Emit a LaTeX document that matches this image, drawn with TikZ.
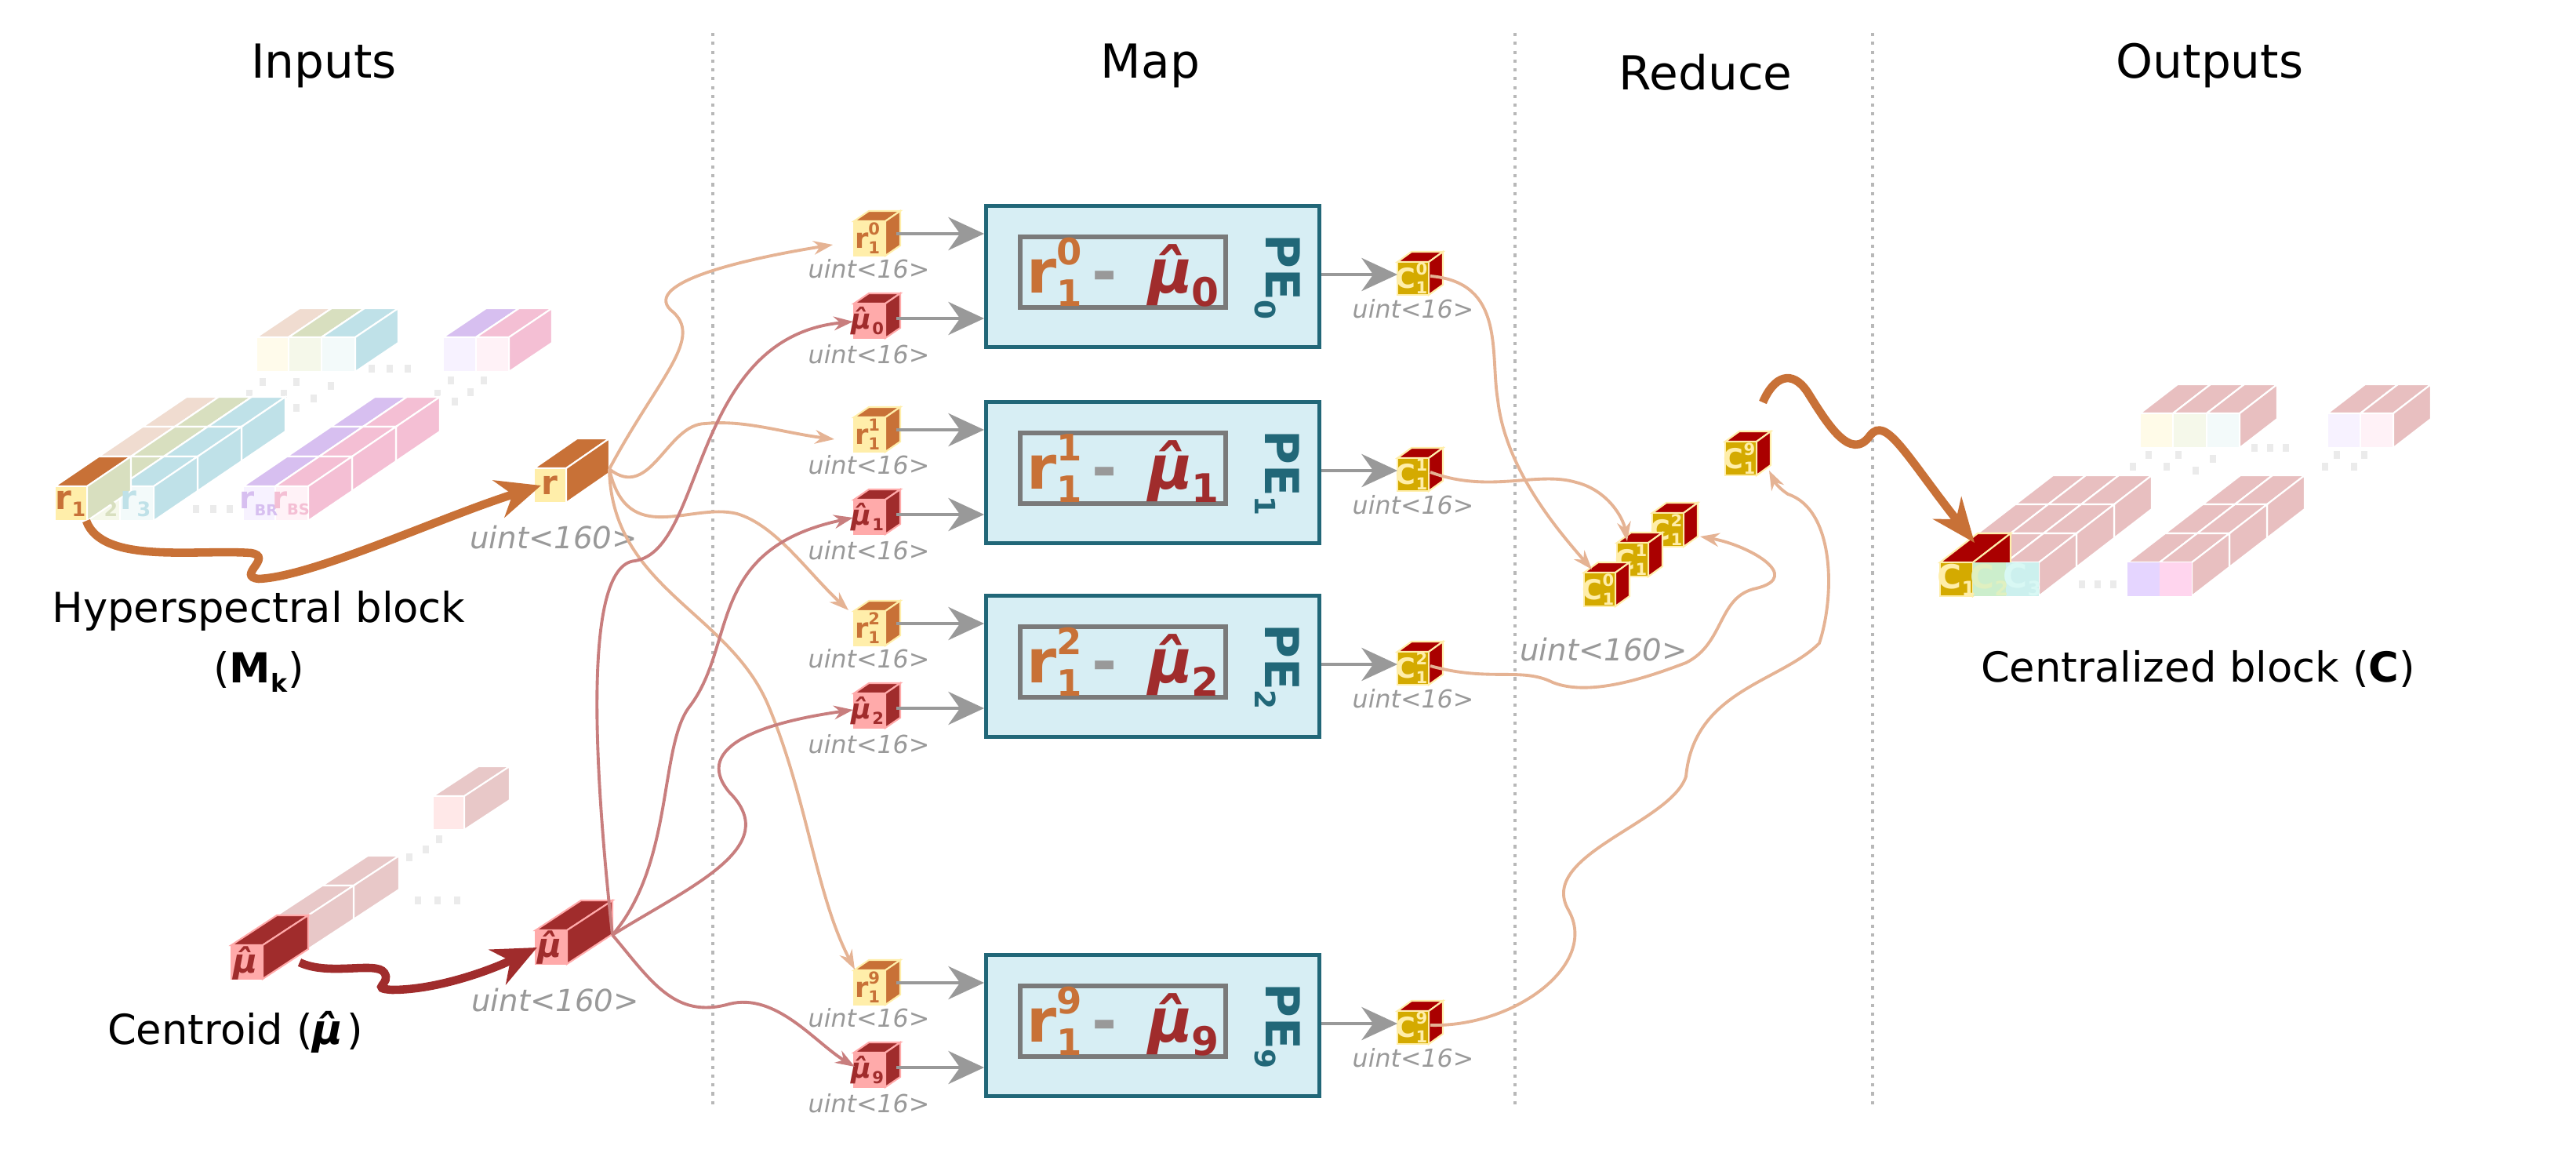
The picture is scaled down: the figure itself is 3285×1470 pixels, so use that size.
\documentclass[tikz,border=0pt]{standalone}
\usepackage{fontspec}
\usepackage{graphicx}
\setmainfont{DejaVu Sans}
\usetikzlibrary{arrows.meta}
\definecolor{orng}{HTML}{C87137}
\definecolor{yel}{HTML}{FFEEAA}
\definecolor{rd}{HTML}{A02C2C}
\definecolor{pnk}{HTML}{FFAAAA}
\definecolor{gold}{HTML}{D4AA00}
\definecolor{drd}{HTML}{AA0000}
\definecolor{pef}{HTML}{D7EEF4}
\definecolor{peb}{HTML}{216778}
\definecolor{igr}{HTML}{7A7A7A}
\definecolor{lgr}{HTML}{999999}
\definecolor{cor}{HTML}{E5B394}
\definecolor{cmu}{HTML}{C87E7E}
\definecolor{hpe}{HTML}{F0DCD0}
\definecolor{hgr}{HTML}{D8DFBF}
\definecolor{hbl}{HTML}{BFE1E8}
\definecolor{hpu}{HTML}{D7BFF0}
\definecolor{hpk}{HTML}{F4BFD4}
\definecolor{cpk}{HTML}{E8BFC0}
\definecolor{FFFBEB}{HTML}{FFFBEB}
\definecolor{F5F8EA}{HTML}{F5F8EA}
\definecolor{F3FAFA}{HTML}{F3FAFA}
\definecolor{F7F2FF}{HTML}{F7F2FF}
\definecolor{FFF2F7}{HTML}{FFF2F7}
\definecolor{FFF3F0}{HTML}{FFF3F0}
\definecolor{FFE8E8}{HTML}{FFE8E8}
\definecolor{E8C8C8}{HTML}{E8C8C8}
\definecolor{FFFBE8}{HTML}{FFFBE8}
\definecolor{CCEECC}{HTML}{CCEECC}
\definecolor{CCF0EE}{HTML}{CCF0EE}
\definecolor{E5D5FF}{HTML}{E5D5FF}
\definecolor{FFD5EE}{HTML}{FFD5EE}
\definecolor{E0F0C0}{HTML}{E0F0C0}
\definecolor{D8F8F4}{HTML}{D8F8F4}
\def\edgecol{white}
% x y w h dx dy front top side
\newcommand\cubo[9]{%
 \filldraw[draw=\edgecol,line width=0.6pt,fill=#8] ({#1},{#2}) -- ++({#5},{-(#6)}) -- ++({#3},0) -- ++({-(#5)},{#6}) -- cycle;
 \filldraw[draw=\edgecol,line width=0.6pt,fill=#9] ({(#1)+(#3)},{#2}) -- ++({#5},{-(#6)}) -- ++(0,{#4}) -- ++({-(#5)},{#6}) -- cycle;
 \filldraw[draw=\edgecol,line width=0.6pt,fill=#7] ({#1},{#2}) rectangle ++({#3},{#4});}
\newcommand\supsb[3]{#1\makebox[0pt][l]{\raisebox{0.85ex}{\scalebox{0.6}{#2}}}\raisebox{-0.4ex}{\scalebox{0.6}{#3}}}
\newcommand\mh{μ̂}
\tikzset{
 title/.style={font=\fontsize{17}{20}\selectfont},
 lbl/.style={font=\fontsize{15}{22}\selectfont, align=center},
 u16/.style={text=lgr,font=\fontsize{9}{10}\selectfont\itshape},
 u160/.style={text=lgr,font=\fontsize{11}{12}\selectfont\itshape},
 garrow/.style={draw=lgr,line width=1pt,-{Stealth[length=13pt,width=12pt]}},
 rcurve/.style={draw=cor,line width=1.1pt,-{Stealth[length=7pt,width=5pt]}},
 mcurve/.style={draw=cmu,line width=1.1pt,-{Stealth[length=7pt,width=5pt]}},
 dotl/.style={draw=lgr!70,line width=1.2pt,dotted},
 pebox/.style={draw=peb,fill=pef,line width=1.3pt,minimum width=4.25cm,minimum height=1.8cm,anchor=north west},
 inner/.style={draw=igr,line width=1.6pt,minimum width=2.62cm,minimum height=0.9cm,inner sep=0pt,font=\fontsize{22}{24}\selectfont\bfseries},
 pel/.style={text=peb,rotate=-90,font=\fontsize{17}{20}\selectfont\bfseries},
 cl/.style={font=\fontsize{12}{14}\selectfont\bfseries,inner sep=0pt},
 sl/.style={font=\fontsize{10}{11}\selectfont\bfseries,inner sep=0pt},
 dsq/.style={fill=black!8},
}
\newcommand\dq[2]{\fill[dsq] ({#1-4},{#2-5}) rectangle ++(8,10);}
\begin{document}
\begin{tikzpicture}[x=0.01cm,y=-0.01cm]
\useasboundingbox (0,0) rectangle (3285,1470);
% dividers
\foreach \xx/\nm in {909/da,1932/db,2388/dc}{
 \coordinate (\nm1) at (\xx,42); \coordinate (\nm2) at (\xx,1414);
 \draw[dotl] (\nm1) -- (\nm2);}
\node[title] (tin) at (413,84) {Inputs};
\node[title] (tmap) at (1467,84) {Map};
\node[title] (tred) at (2175,92) {Reduce};
\node[title] (tout) at (2818,84) {Outputs};

% ---------- Hyperspectral block ----------
\cubo{327}{430}{41}{44}{55}{37}{FFFBEB}{hpe}{hpe}
\cubo{368}{430}{42}{44}{55}{37}{F5F8EA}{hgr}{hgr}
\cubo{410}{430}{43}{44}{55}{37}{F3FAFA}{hbl}{hbl}
\cubo{565}{430}{42}{44}{55}{37}{F7F2FF}{hpu}{hpu}
\cubo{607}{430}{42}{44}{55}{37}{FFF2F7}{hpk}{hpk}
\foreach \a/\b in {474/470,497/470,520/470,335/487,378/487,422/492,318/502,362/502,400/508,378/520,575/485,617/485,558/502,600/500,580/512}{\dq{\a}{\b}}
\foreach \d in {2,1,0}{
 \cubo{70+56*\d}{620-38*\d}{41}{44}{56}{38}{FFF3F0}{hpe}{hpe}
 \cubo{111+56*\d}{620-38*\d}{42}{44}{56}{38}{F5F8EA}{hgr}{hgr}
 \cubo{153+56*\d}{620-38*\d}{43}{44}{56}{38}{F3FAFA}{hbl}{hbl}
 \cubo{310+56*\d}{620-38*\d}{41}{44}{56}{38}{F7F2FF}{hpu}{hpu}
 \cubo{351+56*\d}{620-38*\d}{42}{44}{56}{38}{FFF2F7}{hpk}{hpk}}
\cubo{70}{620}{41}{44}{56}{38}{yel}{orng}{hgr}
\foreach \a in {250,272,293}{\dq{\a}{649}}
\node[cl,text=orng] (r1) at (90,642) {\supsb{r}{}{1}};
\node[cl,text=hgr] (r2) at (131,642) {\supsb{r}{}{2}};
\node[cl,text=hbl] (r3) at (173,642) {\supsb{r}{}{3}};
\node[cl,text=hpu,font=\fontsize{11}{12}\selectfont\bfseries] (rbr) at (330,642) {r\raisebox{-0.4ex}{\scalebox{0.5}{BR}}};
\node[cl,text=hpk,font=\fontsize{11}{12}\selectfont\bfseries] (rbs) at (371,642) {r\raisebox{-0.4ex}{\scalebox{0.5}{BS}}};
\node[lbl] (hyp) at (330,818) {Hyperspectral block\\(\textbf{M}\raisebox{-0.4ex}{\scalebox{0.6}{\textbf{k}}})};
% r cube
\cubo{681}{597}{41}{44}{55}{38}{yel}{orng}{orng}
\node[cl,text=orng] (rr) at (701,619) {r};
\node[u160] (u1) at (706,685) {uint<160>};
\coordinate (rs) at (777,598);
\coordinate (r1b) at (110,664);
\draw[orng,line width=3pt,-{Stealth[length=16pt,width=14pt]}] (r1b) .. controls (130,720) and (250,700) .. (320,705) .. controls (350,710) and (300,735) .. (330,738) .. controls (400,735) and (560,660) .. (rr.west);

% ---------- Centroid ----------
\def\edgecol{white}
\cubo{552}{1015}{40}{43}{58}{38}{FFE8E8}{E8C8C8}{E8C8C8}
\dq{522}{1093}\dq{543}{1083}\dq{560}{1070}
\foreach \a in {533,558,583}{\dq{\a}{1148}}
\cubo{411}{1129}{40}{43}{58}{38}{E8C8C8}{E8C8C8}{E8C8C8}
\cubo{353}{1167}{40}{43}{58}{38}{E8C8C8}{E8C8C8}{E8C8C8}
\def\edgecol{pnk}
\cubo{295}{1205}{40}{43}{58}{38}{pnk}{rd}{rd}
\node[cl,text=rd] (mu1) at (315,1228) {\textit{\mh}};
\cubo{683}{1186}{40}{43}{58}{38}{pnk}{rd}{rd}
\node[cl,text=rd] (muh) at (703,1208) {\textit{\mh}};
\node[u160] (u2) at (708,1275) {uint<160>};
\node[lbl] (cen) at (300,1316) {Centroid (\textbf{\textit{\mh}})};
\coordinate (ms) at (781,1192);
\coordinate (mub) at (382,1227);
\draw[rd,line width=3pt,-{Stealth[length=16pt,width=14pt]}] (mub) .. controls (420,1245) and (480,1225) .. (490,1240) .. controls (500,1255) and (470,1260) .. (500,1262) .. controls (560,1262) and (630,1235) .. (muh.west);

% ---------- Map ----------
\foreach \k/\t in {0/260,1/510,2/757,9/1215}{
 \pgfmathsetmacro\ry{\t+22}\pgfmathsetmacro\my{\t+127}
 \pgfmathsetmacro\rc{\t+44}\pgfmathsetmacro\mc{\t+149}
 \pgfmathsetmacro\ra{\t+38}\pgfmathsetmacro\ma{\t+146}
 \pgfmathsetmacro\cy{\t+74}\pgfmathsetmacro\cc{\t+95}
 \def\edgecol{yel}
 \cubo{1089}{\ry}{40}{44}{19}{13}{yel}{orng}{orng}
 \def\edgecol{pnk}
 \cubo{1089}{\my}{40}{44}{19}{13}{pnk}{rd}{rd}
 \node[sl,text=orng] (rk\k) at (1106,\rc) {\supsb{r}{\k}{1}};
 \node[sl,text=rd] (mk\k) at (1106,\mc) {\textit{\mh}\kern-0.05em\raisebox{-0.4ex}{\scalebox{0.6}{\k}}};
 \node[u16] (ur\k) at (1108,\t+83) {uint<16>};
 \node[u16] (um\k) at (1108,\t+192) {uint<16>};
 \node[pebox] (pe\k) at (1255,\t) {};
 \node[inner] (f\k) at (1432,\t+87) {\textcolor{orng}{\supsb{r}{\k}{1}}\,\textcolor{lgr}{-}\, \textcolor{rd}{\textit{\mh}\kern-0.12em\raisebox{-0.4ex}{\scalebox{0.65}{\k}}}};
 \node[pel] (pl\k) at (1629,\t+93) {PE\raisebox{-0.4ex}{\scalebox{0.6}{\k}}};
 \coordinate (ro\k) at (1143,\ra); \coordinate (mo\k) at (1143,\ma);
 \draw[garrow] (ro\k) -- (pe\k.west |- ro\k);
 \draw[garrow] (mo\k) -- (pe\k.west |- mo\k);
 \def\edgecol{yel}
 \cubo{1782}{\cy}{40}{42}{18}{13}{gold}{drd}{drd}
 \node[sl,text=yel] (ck\k) at (1800,\cc) {\supsb{C}{\k}{1}};
 \node[u16] (uc\k) at (1802,\t+134) {uint<16>};
 \coordinate (ci\k) at (1782,\t+90);
 \draw[garrow] (pe\k.east |- ci\k) -- (ci\k);
 \coordinate (cs\k) at (1824,\t+92);
}
% input curves
\draw[rcurve] (rs) .. controls (840,480) and (900,430) .. (855,395) .. controls (820,360) and (950,330) .. (1062,312);
\draw[rcurve] (rs) .. controls (830,640) and (850,540) .. (900,540) .. controls (950,535) and (1000,552) .. (1064,560);
\draw[rcurve] (rs) .. controls (800,700) and (880,640) .. (940,655) .. controls (990,670) and (1030,730) .. (1082,778);
\draw[rcurve] (rs) .. controls (780,750) and (930,780) .. (980,900) .. controls (1030,1020) and (1040,1140) .. (1090,1236);
\draw[mcurve] (ms) .. controls (760,1000) and (740,720) .. (810,715) .. controls (900,700) and (880,430) .. (1088,410);
\draw[mcurve] (ms) .. controls (860,1100) and (840,950) .. (880,900) .. controls (940,820) and (900,700) .. (1088,660);
\draw[mcurve] (ms) .. controls (880,1130) and (1000,1080) .. (930,1010) .. controls (880,950) and (980,920) .. (1088,905);
\draw[mcurve] (ms) .. controls (830,1250) and (860,1300) .. (930,1280) .. controls (990,1265) and (1040,1330) .. (1090,1360);

% ---------- Reduce ----------
\def\edgecol{yel}
\cubo{2200}{563}{40}{43}{18}{13}{gold}{drd}{drd}
\node[sl,text=yel] (c9) at (2218,585) {\supsb{C}{9}{1}};
\cubo{2107}{654}{40}{43}{18}{13}{gold}{drd}{drd}
\node[sl,text=yel] (c2) at (2125,676) {\supsb{C}{2}{1}};
\cubo{2062}{692}{40}{43}{18}{13}{gold}{drd}{drd}
\node[sl,text=yel] (c1) at (2080,714) {\supsb{C}{1}{1}};
\cubo{2020}{730}{40}{43}{18}{13}{gold}{drd}{drd}
\node[sl,text=yel] (c0) at (2038,752) {\supsb{C}{0}{1}};
\node[u160] (u3) at (2045,828) {uint<160>};
\draw[rcurve] (cs0) .. controls (1920,360) and (1900,450) .. (1910,510) .. controls (1920,600) and (1990,680) .. (2030,726);
\draw[rcurve] (cs1) .. controls (1900,630) and (1960,600) .. (2010,615) .. controls (2050,625) and (2070,660) .. (2075,690);
\draw[rcurve] (cs2) .. controls (1900,870) and (1940,850) .. (1980,870) .. controls (2030,890) and (2110,860) .. (2150,845) .. controls (2200,820) and (2190,760) .. (2240,750) .. controls (2300,735) and (2230,695) .. (2168,684);
\draw[rcurve] (cs9) .. controls (1930,1310) and (2040,1230) .. (2000,1160) .. controls (1960,1090) and (2130,1050) .. (2150,990) .. controls (2160,880) and (2270,870) .. (2320,820) .. controls (2340,760) and (2340,650) .. (2280,630) .. controls (2265,620) and (2262,612) .. (2256,600);

% ---------- Outputs ----------
\def\edgecol{white}
\cubo{2729}{527}{42}{44}{48}{37}{FFFBE8}{cpk}{cpk}
\cubo{2771}{527}{43}{44}{48}{37}{F5F8EA}{cpk}{cpk}
\cubo{2814}{527}{42}{44}{48}{37}{F3FAFA}{cpk}{cpk}
\cubo{2968}{527}{42}{44}{48}{37}{F7F2FF}{cpk}{cpk}
\cubo{3010}{527}{42}{44}{48}{37}{FFF2F7}{cpk}{cpk}
\foreach \a/\b in {2875/571,2895/571,2915/571,2740/580,2778/580,2822/585,2720/595,2763/595,2800/600,2980/580,3015/580,2965/595,3002/595}{\dq{\a}{\b}}
\foreach \d in {2,1,0}{
 \cubo{2474+48*\d}{717-37*\d}{42}{43}{48}{37}{cpk}{cpk}{cpk}
 \cubo{2516+48*\d}{717-37*\d}{42}{43}{48}{37}{cpk}{cpk}{cpk}
 \cubo{2558+48*\d}{717-37*\d}{42}{43}{48}{37}{cpk}{cpk}{cpk}
 \cubo{2713+48*\d}{717-37*\d}{41}{43}{48}{37}{cpk}{cpk}{cpk}
 \cubo{2754+48*\d}{717-37*\d}{41}{43}{48}{37}{cpk}{cpk}{cpk}}
\def\edgecol{yel}
\cubo{2474}{717}{42}{43}{48}{37}{gold}{drd}{drd}
\def\edgecol{white}
\fill[CCEECC] (2516,717) rectangle ++(42,43);
\fill[CCF0EE] (2558,717) rectangle ++(42,43);
\fill[E5D5FF] (2713,717) rectangle ++(41,43);
\fill[FFD5EE] (2754,717) rectangle ++(41,43);
\foreach \a in {2655,2675,2695}{\dq{\a}{745}}
\node[cl,text=yel] (o1) at (2495,739) {\supsb{C}{}{1}};
\node[cl,text=E0F0C0] (o2) at (2537,739) {\supsb{C}{}{2}};
\node[cl,text=D8F8F4] (o3) at (2579,739) {\supsb{C}{}{3}};
\node[lbl] (cb) at (2803,853) {Centralized block (\textbf{C})};
\coordinate (bs) at (2248,513);
\draw[orng,line width=3pt,-{Stealth[length=16pt,width=13pt]}] (bs) .. controls (2262,480) and (2285,470) .. (2305,500) .. controls (2330,540) and (2360,590) .. (2385,555) .. controls (2405,530) and (2430,580) .. (2518,692);
\end{tikzpicture}
\end{document}
